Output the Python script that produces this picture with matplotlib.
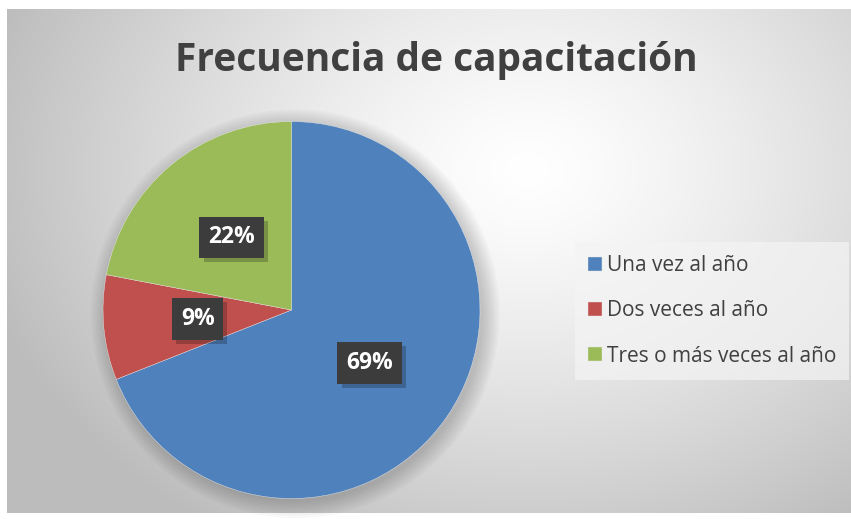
import numpy as np
import matplotlib.pyplot as plt
import matplotlib.patheffects as pe
from matplotlib.patches import Circle

labels = ['Una vez al año', 'Dos veces al año', 'Tres o más veces al año']
values = [69, 9, 22]
colors = ['#4F81BD', '#C0504D', '#9BBB59']
title = 'Frecuencia de capacitación'

W, H = 851, 519
fig = plt.figure(figsize=(W / 100, H / 100), dpi=100, facecolor='white')
plt.rcParams['font.family'] = ['Open Sans', 'DejaVu Sans']

# radial gradient background of the chart area
bg = fig.add_axes([7 / W, 6 / H, 844 / W, 504 / H])
yy, xx = np.mgrid[0:504, 0:844]
d = np.sqrt(((xx - 520) / 560.0) ** 2 + ((yy - 160) / 430.0) ** 2)
g = np.clip(1.0 - 0.26 * d ** 1.3, 0.74, 1.0)
bg.imshow(np.dstack([g, g, g]), aspect='auto', interpolation='bilinear')
bg.axis('off')

# pie
cx, cy, r = 291.5, 310, 188.5
ax = fig.add_axes([(cx - r) / W, (H - cy - r) / H, 2 * r / W, 2 * r / H])
for k in range(8):
    ax.add_patch(Circle((0.02, -0.02), 1.0 + 0.012 * k, color='black',
                        alpha=0.022, lw=0, zorder=0, clip_on=False))
wedges, texts, autotexts = ax.pie(values, colors=colors, startangle=90,
                                  counterclock=False, autopct='%1.0f%%',
                                  pctdistance=0.5,
                                  wedgeprops=dict(linewidth=0.3, edgecolor='#e8e8e8'))
ax.set_xlim(-1, 1)
ax.set_ylim(-1, 1)
for t in autotexts:
    t.set_color('white')
    t.set_fontsize(16.5)
    t.set_fontweight('bold')
    t.set_bbox(dict(boxstyle='square,pad=0.38', facecolor='#3c3c3c', edgecolor='none'))
    t.get_bbox_patch().set_path_effects([
        pe.SimplePatchShadow(offset=(3, -3), shadow_rgbFace='black', alpha=0.22),
        pe.Normal()])

fig.text(436 / W, 1 - 61 / H, title, ha='center', va='center',
         fontsize=28, fontweight='bold', color='#404040')

leg = fig.legend(wedges, labels, loc='center left',
                 bbox_to_anchor=(575 / W, 1 - 311 / H), borderaxespad=0,
                 frameon=True, fontsize=15, labelspacing=1.16,
                 handlelength=0.67, handleheight=0.67, handletextpad=0.25,
                 borderpad=0.62, labelcolor='#404040', fancybox=False)
leg.get_frame().set_facecolor('#f4f4f4')
leg.get_frame().set_alpha(0.7)
leg.get_frame().set_edgecolor('none')

fig.savefig('out.png', dpi=100, facecolor='white')
